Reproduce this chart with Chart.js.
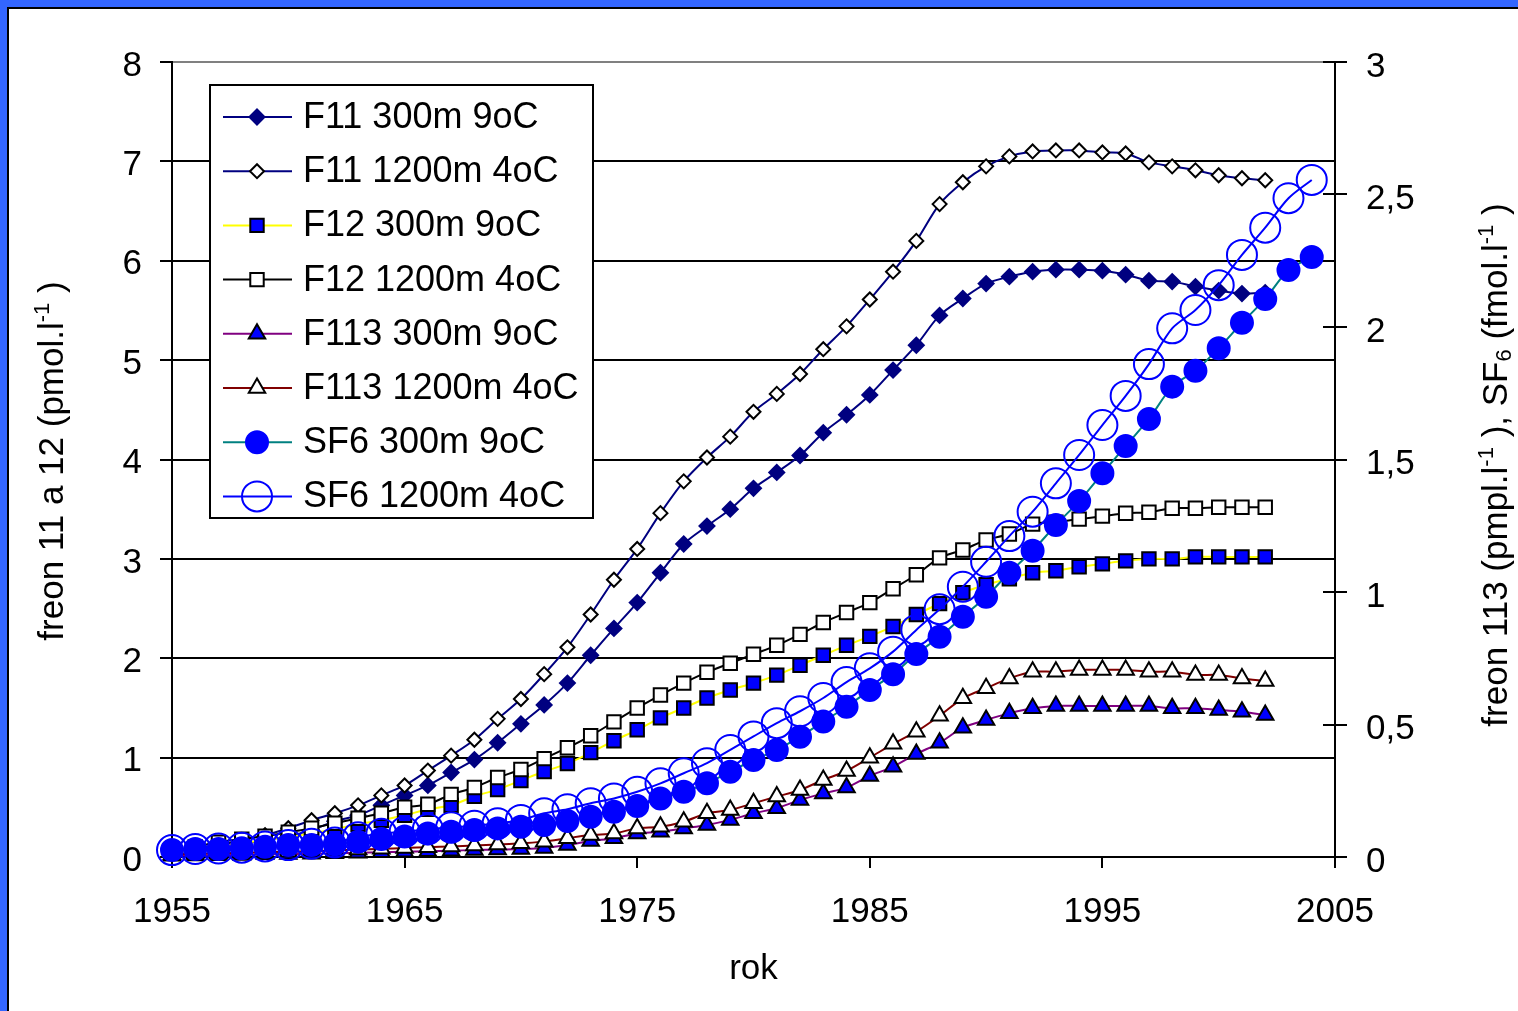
<!DOCTYPE html>
<html>
<head>
<meta charset="utf-8">
<script src="https://cdn.jsdelivr.net/npm/chart.js"></script>
<style>
  html, body { margin: 0; padding: 0; background: #fff; }
  canvas { display: block; }
</style>
</head>
<body>
<canvas id="myChart" width="1518" height="1011"></canvas>
<script>
// roky merani
const years = [1955, 1956, 1957, 1958, 1959, 1960, 1961, 1962, 1963, 1964,
  1965, 1966, 1967, 1968, 1969, 1970, 1971, 1972, 1973, 1974,
  1975, 1976, 1977, 1978, 1979, 1980, 1981, 1982, 1983, 1984,
  1985, 1986, 1987, 1988, 1989, 1990, 1991, 1992, 1993, 1994,
  1995, 1996, 1997, 1998, 1999, 2000, 2001, 2002, 2003, 2004];

// freony 11 a 12 (lava os, pmol/l) - 1955..2002
const f11_300 = [0.04, 0.07, 0.10, 0.13, 0.17, 0.21, 0.27, 0.36, 0.42, 0.52,
  0.62, 0.72, 0.85, 0.98, 1.15, 1.34, 1.53, 1.75, 2.03, 2.30,
  2.56, 2.86, 3.15, 3.33, 3.50, 3.71, 3.87, 4.04, 4.27, 4.45,
  4.65, 4.90, 5.15, 5.45, 5.62, 5.77, 5.84, 5.89, 5.91, 5.91,
  5.90, 5.86, 5.80, 5.79, 5.74, 5.70, 5.67, 5.68];
const f11_1200 = [0.05, 0.08, 0.12, 0.17, 0.22, 0.29, 0.37, 0.44, 0.52, 0.62,
  0.72, 0.87, 1.02, 1.18, 1.39, 1.59, 1.84, 2.11, 2.44, 2.79,
  3.10, 3.46, 3.78, 4.02, 4.23, 4.48, 4.66, 4.86, 5.11, 5.34,
  5.61, 5.89, 6.20, 6.57, 6.79, 6.95, 7.05, 7.10, 7.11, 7.11,
  7.09, 7.08, 6.99, 6.95, 6.91, 6.86, 6.83, 6.81];
const f12_300 = [0.04, 0.07, 0.10, 0.14, 0.17, 0.20, 0.24, 0.28, 0.33, 0.37,
  0.42, 0.48, 0.52, 0.61, 0.68, 0.77, 0.86, 0.94, 1.05, 1.17,
  1.28, 1.40, 1.50, 1.60, 1.68, 1.75, 1.83, 1.93, 2.03, 2.13,
  2.22, 2.32, 2.44, 2.55, 2.66, 2.74, 2.80, 2.86, 2.88, 2.92,
  2.95, 2.98, 3.00, 3.00, 3.02, 3.02, 3.02, 3.02];
const f12_1200 = [0.06, 0.10, 0.15, 0.18, 0.21, 0.25, 0.29, 0.34, 0.39, 0.44,
  0.50, 0.53, 0.63, 0.70, 0.80, 0.88, 0.99, 1.10, 1.22, 1.36,
  1.50, 1.63, 1.75, 1.86, 1.95, 2.04, 2.13, 2.24, 2.36, 2.46,
  2.56, 2.70, 2.84, 3.01, 3.09, 3.19, 3.25, 3.35, 3.37, 3.40,
  3.43, 3.46, 3.47, 3.51, 3.51, 3.52, 3.52, 3.52];

// freon 113 (prava os) - 1955..2002
const f113_300 = [0.005, 0.006, 0.007, 0.008, 0.010, 0.011, 0.012, 0.014, 0.016, 0.018,
  0.020, 0.022, 0.024, 0.026, 0.028, 0.030, 0.034, 0.045, 0.060, 0.071,
  0.089, 0.095, 0.108, 0.121, 0.140, 0.165, 0.184, 0.215, 0.240, 0.262,
  0.306, 0.341, 0.389, 0.431, 0.488, 0.517, 0.542, 0.561, 0.570, 0.570,
  0.570, 0.570, 0.570, 0.561, 0.561, 0.555, 0.548, 0.536];
const f113_1200 = [0.010, 0.012, 0.014, 0.016, 0.018, 0.020, 0.022, 0.025, 0.028, 0.031,
  0.034, 0.037, 0.040, 0.043, 0.047, 0.052, 0.058, 0.071, 0.083, 0.089,
  0.108, 0.114, 0.133, 0.165, 0.177, 0.203, 0.228, 0.253, 0.291, 0.325,
  0.375, 0.427, 0.473, 0.533, 0.599, 0.637, 0.674, 0.699, 0.699, 0.706,
  0.706, 0.706, 0.699, 0.699, 0.687, 0.687, 0.674, 0.664];

// SF6 (prava os) - 1955..2004
const sf6_300 = [0.026, 0.030, 0.030, 0.033, 0.039, 0.045, 0.045, 0.048, 0.058, 0.068,
  0.077, 0.089, 0.095, 0.102, 0.108, 0.114, 0.121, 0.136, 0.152, 0.171,
  0.192, 0.221, 0.246, 0.278, 0.322, 0.366, 0.404, 0.454, 0.511, 0.567,
  0.630, 0.690, 0.766, 0.831, 0.907, 0.982, 1.073, 1.156, 1.253, 1.343,
  1.448, 1.551, 1.653, 1.775, 1.835, 1.920, 2.016, 2.106, 2.215, 2.264];
const sf6_1200 = [0.026, 0.030, 0.032, 0.035, 0.040, 0.045, 0.050, 0.055, 0.075, 0.088,
  0.095, 0.105, 0.112, 0.118, 0.127, 0.140, 0.165, 0.180, 0.203, 0.221,
  0.246, 0.278, 0.316, 0.354, 0.404, 0.455, 0.505, 0.550, 0.600, 0.660,
  0.712, 0.775, 0.857, 0.935, 1.020, 1.114, 1.211, 1.303, 1.410, 1.517,
  1.630, 1.740, 1.860, 1.995, 2.064, 2.158, 2.272, 2.375, 2.486, 2.555];

const seriesNames = ['F11 300m 9oC', 'F11 1200m 4oC', 'F12 300m 9oC', 'F12 1200m 4oC',
  'F113 300m 9oC', 'F113 1200m 4oC', 'SF6 300m 9oC', 'SF6 1200m 4oC'];
const xTickLabels = ['1955', '1965', '1975', '1985', '1995', '2005'];
const rightTickLabels = ['0', '0,5', '1', '1,5', '2', '2,5', '3'];

const FONT = '"Liberation Sans", Arial, sans-serif';

function pts(values) {
  return values.map((v, i) => ({ x: years[i], y: v }));
}

// styl kazdej serie (ciara + znacka)
function serie(i, values, axis, line, style, radius, fill, border) {
  return {
    label: seriesNames[i],
    data: pts(values),
    yAxisID: axis,
    borderColor: line,
    borderWidth: 2,
    tension: 0.3,
    fill: false,
    clip: false,
    pointStyle: style,
    pointRadius: radius,
    pointHoverRadius: radius,
    pointBackgroundColor: fill,
    pointBorderColor: border,
    pointBorderWidth: 2,
    order: 7 - i
  };
}

const datasets = [
  serie(0, f11_300, 'y', '#000080', 'rectRot', 7.5, '#000080', '#000080'),
  serie(1, f11_1200, 'y', '#000080', 'rectRot', 7, '#ffffff', '#000000'),
  serie(2, f12_300, 'y', '#ffff00', 'rect', 9.5, '#0000ff', '#000000'),
  serie(3, f12_1200, 'y', '#000000', 'rect', 9.5, '#ffffff', '#000000'),
  serie(4, f113_300, 'y2', '#800080', 'triangle', 9.5, '#0000ff', '#000000'),
  serie(5, f113_1200, 'y2', '#800000', 'triangle', 9.5, '#ffffff', '#000000'),
  serie(6, sf6_300, 'y2', '#008080', 'circle', 11, '#0000ff', '#0000ff'),
  serie(7, sf6_1200, 'y2', '#0000ff', 'circle', 15, 'rgba(0,0,0,0)', '#0000ff')
];

// text otoceny o 90 stupnov, s hornym/dolnym indexom
function drawRich(ctx, parts, bx, cy) {
  ctx.save();
  ctx.translate(bx, cy);
  ctx.rotate(-Math.PI / 2);
  ctx.textBaseline = 'alphabetic';
  ctx.textAlign = 'left';
  ctx.fillStyle = '#000';
  let total = 0;
  parts.forEach(p => {
    ctx.font = p.size + 'px ' + FONT;
    p.w = ctx.measureText(p.text).width;
    total += p.w;
  });
  let x = -total / 2;
  parts.forEach(p => {
    ctx.font = p.size + 'px ' + FONT;
    ctx.fillText(p.text, x, p.dy || 0);
    x += p.w;
  });
  ctx.restore();
}

const extras = {
  id: 'extras',
  beforeDraw(chart) {
    const c = chart.ctx;
    c.save();
    c.fillStyle = '#ffffff';
    c.fillRect(0, 0, chart.width, chart.height);
    c.fillStyle = '#3366ff';
    c.fillRect(0, 0, chart.width, 7);
    c.fillRect(0, 0, 7, chart.height);
    c.fillStyle = '#000000';
    c.fillRect(7, 7, chart.width - 7, 2);
    c.fillRect(7, 7, 2, chart.height - 7);
    c.restore();
  },
  beforeDatasetsDraw(chart) {
    // krizove znacky na pravej osi
    const c = chart.ctx;
    const y2 = chart.scales.y2;
    c.save();
    c.strokeStyle = '#000';
    c.lineWidth = 2;
    y2.ticks.forEach(t => {
      const py = Math.round(y2.getPixelForValue(t.value));
      c.beginPath();
      c.moveTo(y2.left - 12, py);
      c.lineTo(y2.left, py);
      c.stroke();
    });
    c.restore();
  },
  afterDraw(chart) {
    const c = chart.ctx;
    // nazvy osi
    drawRich(c, [
      { text: 'freon 11 a 12 (pmol.l', size: 35 },
      { text: '-1', size: 22, dy: -14 },
      { text: ' )', size: 35 }
    ], 63, 461);
    drawRich(c, [
      { text: 'freon 113 (pmpl.l', size: 35 },
      { text: '-1', size: 22, dy: -14 },
      { text: ' ), SF', size: 35 },
      { text: '6', size: 22, dy: 4 },
      { text: ' (fmol.l', size: 35 },
      { text: '-1', size: 22, dy: -14 },
      { text: ' )', size: 35 }
    ], 1507, 465);

    // legenda
    c.save();
    c.fillStyle = '#ffffff';
    c.fillRect(210, 85, 383, 433);
    c.strokeStyle = '#000';
    c.lineWidth = 2;
    c.strokeRect(210, 85, 383, 433);
    datasets.forEach((ds, i) => {
      const y = 117 + i * 54.2;
      c.strokeStyle = ds.borderColor;
      c.lineWidth = 2;
      c.beginPath();
      c.moveTo(223, y);
      c.lineTo(292, y);
      c.stroke();
      c.fillStyle = ds.pointBackgroundColor;
      c.strokeStyle = ds.pointBorderColor;
      c.lineWidth = 2;
      Chart.helpers.drawPoint(c, {
        pointStyle: ds.pointStyle, radius: ds.pointRadius, rotation: 0, borderWidth: 2
      }, 257, y);
      c.fillStyle = '#000';
      c.font = '36px ' + FONT;
      c.textBaseline = 'middle';
      c.textAlign = 'left';
      c.fillText(ds.label, 303, y + 1);
    });
    c.restore();
  }
};

new Chart(document.getElementById('myChart'), {
  type: 'line',
  data: { datasets: datasets },
  plugins: [extras],
  options: {
    responsive: false,
    animation: false,
    devicePixelRatio: 1,
    layout: { padding: { top: 62, left: 0, right: 0, bottom: 0 } },
    plugins: {
      legend: { display: false },
      tooltip: { enabled: false }
    },
    scales: {
      x: {
        type: 'linear',
        min: 1955,
        max: 2005,
        afterFit(scale) { scale.height = 154; },
        afterBuildTicks(scale) {
          scale.ticks = xTickLabels.map(t => ({ value: Number(t) }));
        },
        ticks: {
          callback: (v) => String(v),
          color: '#000',
          font: { family: FONT, size: 35 },
          padding: 23,
          maxRotation: 0,
          autoSkip: false
        },
        grid: {
          drawOnChartArea: false,
          color: '#000',
          lineWidth: 2,
          tickLength: 11
        },
        border: { color: '#000', width: 2 },
        title: {
          display: true,
          text: 'rok',
          color: '#000',
          font: { family: FONT, size: 35, lineHeight: 1.2 },
          padding: { top: 0, bottom: 21 }
        }
      },
      y: {
        position: 'left',
        min: 0,
        max: 8,
        afterFit(scale) { scale.width = 172; },
        ticks: {
          stepSize: 1,
          color: '#000',
          font: { family: FONT, size: 35 },
          padding: 18,
          labelOffset: 4
        },
        grid: {
          color: (ctx) => (ctx.tick && ctx.tick.value === 8 ? '#808080' : '#000000'),
          tickColor: '#000',
          lineWidth: 2,
          tickLength: 12
        },
        border: { color: '#000', width: 2 }
      },
      y2: {
        position: 'right',
        min: 0,
        max: 3,
        afterFit(scale) { scale.width = 183; },
        ticks: {
          stepSize: 0.5,
          color: '#000',
          font: { family: FONT, size: 35 },
          padding: 19,
          labelOffset: 5,
          callback: (v) => rightTickLabels[Math.round(v * 2)]
        },
        grid: {
          drawOnChartArea: false,
          color: '#000',
          lineWidth: 2,
          tickLength: 12
        },
        border: { color: '#000', width: 2 }
      }
    }
  }
});
</script>
</body>
</html>
